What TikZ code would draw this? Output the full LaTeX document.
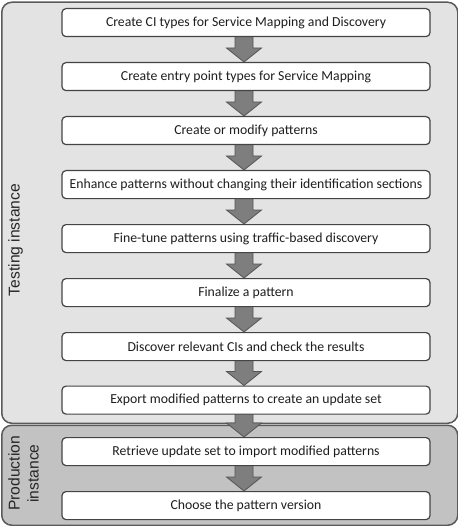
\documentclass[tikz,border=0pt]{standalone}
\usepackage{fontspec}
\setmainfont{Carlito}
\newfontfamily\labelfont{Liberation Sans}
\usetikzlibrary{calc}
\pgfdeclarelayer{bg}
\pgfdeclarelayer{arr}
\pgfsetlayers{bg,arr,main}
\definecolor{outerline}{HTML}{5A5A5A}
\definecolor{testfill}{HTML}{E3E3E3}
\definecolor{prodfill}{HTML}{C2C2C2}
\definecolor{boxline}{HTML}{444444}
\definecolor{arrfill}{HTML}{7E7E7E}
\definecolor{arrline}{HTML}{555555}
\definecolor{txt}{HTML}{1E1E1E}
\tikzset{
  x=1bp, y=-1bp,
  stepbox/.style={draw=boxline, line width=1.2bp, fill=white, rounded corners=4bp,
    minimum width=368bp, minimum height=28bp, inner sep=0pt, anchor=north,
    text=txt, font=\fontsize{13.8}{16}\selectfont},
  outerbox/.style={draw=outerline, line width=1.5bp, rounded corners=10bp,
    minimum width=456bp, inner sep=0pt, anchor=north west},
  sidelabel/.style={rotate=90, font=\labelfont\fontsize{15.7}{19}\selectfont,
    text=black!85, align=center, inner sep=0pt},
  blockarr/.style={fill=arrfill, draw=arrline, line width=0.8bp, line join=miter},
}
\newcommand\blkarrow[2]{%
  \path let \p1=(#1.south), \p2=(#2.north) in
    coordinate (s) at (\x1-2bp,\y1+6bp)
    coordinate (t) at (\x1-2bp,\y2);
  \draw[blockarr] ($(s)+(-9,0)$) -- ($(t)+(-9,-14)$) -- ($(t)+(-17.5,-14)$) -- (t)
    -- ($(t)+(17.5,-14)$) -- ($(t)+(9,-14)$) -- ($(s)+(9,0)$) -- cycle;
}
\begin{document}
\begin{tikzpicture}
\useasboundingbox (0,0) rectangle (458,526);
\node[stepbox] (b1) at (246,8) {Create CI types for Service Mapping and Discovery};
\node[stepbox] (b2) at (246,62) {Create entry point types for Service Mapping};
\node[stepbox] (b3) at (246,116) {Create or modify patterns};
\node[stepbox] (b4) at (246,170) {Enhance patterns without changing their identification sections};
\node[stepbox] (b5) at (246,224) {Fine-tune patterns using traffic-based discovery};
\node[stepbox] (b6) at (246,278) {Finalize a pattern};
\node[stepbox] (b7) at (246,332) {Discover relevant CIs and check the results};
\node[stepbox] (b8) at (246,385.5) {Export modified patterns to create an update set};
\node[stepbox] (b9) at (246,437) {Retrieve update set to import modified patterns};
\node[stepbox] (b10) at (246,491) {Choose the pattern version};
\begin{pgfonlayer}{bg}
\node[outerbox, fill=testfill, minimum height=421bp] (testing) at (1,1.5) {};
\node[outerbox, fill=prodfill, minimum height=100bp] (production) at (1,424.5) {};
\node[sidelabel] (tlabel) at (15.5,240) {Testing instance};
\node[sidelabel] (plabel) at (23.5,473.5) {Production\\instance};
\end{pgfonlayer}
\begin{pgfonlayer}{arr}
\blkarrow{b1}{b2}
\blkarrow{b2}{b3}
\blkarrow{b3}{b4}
\blkarrow{b4}{b5}
\blkarrow{b5}{b6}
\blkarrow{b6}{b7}
\blkarrow{b7}{b8}
\blkarrow{b8}{b9}
\blkarrow{b9}{b10}
\end{pgfonlayer}
\end{tikzpicture}
\end{document}
